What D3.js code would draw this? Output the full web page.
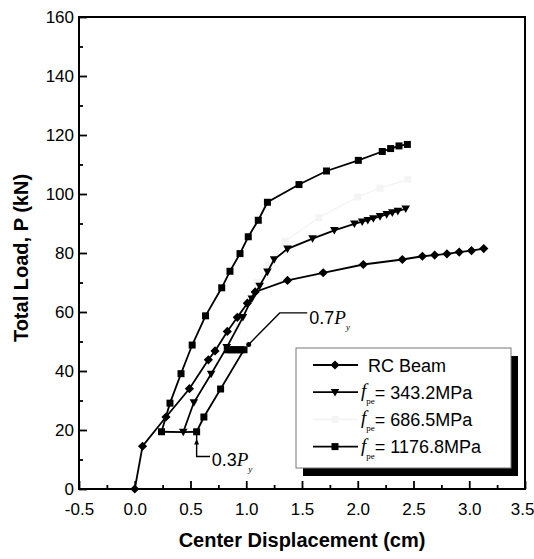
<!DOCTYPE html>
<html><head><meta charset="utf-8">
<script src="https://cdn.jsdelivr.net/npm/d3@7"></script>
<style>body{margin:0;background:#fff}</style></head>
<body>
<svg id="c" width="534" height="559"></svg>
<script>
// ---- data (cm, kN) ----
const rcX = [0, 0.07, 0.28, 0.49, 0.66, 0.72, 0.83, 0.92, 1.01, 1.08, 1.37, 1.69, 2.05, 2.40, 2.58, 2.69, 2.80, 2.91, 3.02, 3.13];
const rcY = [0, 14.5, 24.4, 34.0, 43.8, 46.8, 53.4, 58.2, 63.0, 66.8, 70.7, 73.3, 76.1, 77.8, 78.9, 79.3, 79.7, 80.3, 80.8, 81.5];

const f343X = [0.435, 0.53, 0.685, 0.825, 0.97, 1.05, 1.12, 1.19, 1.25, 1.37, 1.595, 1.79, 1.97, 2.04, 2.09, 2.14, 2.20, 2.26, 2.31, 2.36, 2.43];
const f343Y = [19.3, 29.3, 39.0, 48.0, 58.2, 64.5, 68.8, 73.6, 77.8, 81.4, 84.9, 87.7, 89.9, 90.6, 91.1, 91.7, 92.4, 93.1, 93.7, 94.2, 95.0];

const f686X = [0.83, 0.92, 1.01, 1.10, 1.20, 1.35, 1.65, 2.00, 2.20, 2.45];
const f686Y = [47.2, 55.0, 63.0, 70.0, 76.0, 84.0, 92.0, 99.0, 102.0, 105.0];

const f1176X = [0.24, 0.316, 0.415, 0.515, 0.635, 0.78, 0.854, 0.944, 1.018, 1.108, 1.19, 1.473, 1.72, 2.005, 2.22, 2.295, 2.37, 2.445];
const f1176Y = [19.4, 29.1, 39.1, 48.8, 58.7, 68.2, 73.8, 79.8, 85.5, 91.1, 97.2, 103.2, 107.8, 111.4, 114.4, 115.4, 116.3, 116.8];

// preload path to 0.7Py and shift at constant load
const preX = [0.555, 0.62, 0.77, 0.98, 0.95, 0.92, 0.89, 0.86, 0.83];
const preY = [19.4, 24.4, 33.9, 47.2, 47.2, 47.2, 47.2, 47.2, 47.2];
// shift at 0.3Py
const shiftX = [0.24, 0.435, 0.555];
const shiftY = [19.4, 19.3, 19.4];

// annotation leaders
const lead03X = [0.675, 0.555, 0.555];
const lead03Y = [11.0, 11.0, 19.4];
const lead07X = [1.022, 1.30, 1.547];
const lead07Y = [49.0, 59.7, 59.7];

const xMajor = [-0.5, 0, 0.5, 1.0, 1.5, 2.0, 2.5, 3.0, 3.5];
const xMinor = [-0.25, 0.25, 0.75, 1.25, 1.75, 2.25, 2.75, 3.25];
const yMajor = [0, 20, 40, 60, 80, 100, 120, 140, 160];
const yMinor = [10, 30, 50, 70, 90, 110, 130, 150];

const legendLabels = ["RC Beam", "343.2MPa", "686.5MPa", "1176.8MPa"];

// ---- drawing ----
const svg = d3.select("#c");
const L = 79, R = 525, T = 17, B = 489;
const x = d3.scaleLinear().domain([-0.5, 3.5]).range([L, R]);
const y = d3.scaleLinear().domain([0, 160]).range([B, T]);
const font = "'Liberation Sans', Arial, sans-serif";
const serif = "'Liberation Serif', 'Times New Roman', serif";

// axes
const gx = svg.append("g").attr("transform", `translate(0,${B})`)
  .call(d3.axisBottom(x).tickValues(xMajor).tickSize(-8).tickPadding(14).tickFormat(d3.format(".1f")));
svg.append("g").attr("transform", `translate(0,${B})`)
  .call(d3.axisBottom(x).tickValues(xMinor).tickSize(-4).tickFormat(""));
const gy = svg.append("g").attr("transform", `translate(${L},0)`)
  .call(d3.axisLeft(y).tickValues(yMajor).tickSize(-8).tickPadding(5).tickFormat(d3.format("d")));
svg.append("g").attr("transform", `translate(${L},0)`)
  .call(d3.axisLeft(y).tickValues(yMinor).tickSize(-4).tickFormat(""));
svg.selectAll(".domain").remove();
svg.selectAll(".tick line").attr("stroke", "#000").attr("stroke-width", 1.8);
svg.selectAll(".tick text").attr("font-family", font).attr("font-size", 17).attr("fill", "#000");
gx.selectAll(".tick text")
  .text(d => d < 0 ? "-" + Math.abs(d).toFixed(1) : d.toFixed(1))
  .attr("text-anchor", d => d === 3.5 ? "end" : "middle")
  .attr("dx", d => d === 3.5 ? 9 : 0);

// frame
svg.append("rect").attr("x", L).attr("y", T).attr("width", R - L).attr("height", B - T)
  .attr("fill", "none").attr("stroke", "#000").attr("stroke-width", 2);

// axis titles
svg.append("text").attr("x", (L + R) / 2).attr("y", 547).attr("text-anchor", "middle")
  .attr("font-family", font).attr("font-weight", "bold").attr("font-size", 20).text("Center Displacement (cm)");
svg.append("text").attr("transform", `translate(28,${(T + B) / 2 + 5}) rotate(-90)`).attr("text-anchor", "middle")
  .attr("font-family", font).attr("font-weight", "bold").attr("font-size", 20).text("Total Load, P (kN)");

// markers
const sq = "M-3.5,-3.5H3.5V3.5H-3.5Z";
const dia = "M0,-4.6L4.6,0L0,4.6L-4.6,0Z";
const tri = "M-4.3,-3.3L4.3,-3.3L0,4.3Z";

const line = d3.line().x(d => x(d[0])).y(d => y(d[1]));
const zip = (a, b) => a.map((v, i) => [v, b[i]]);

function series(xs, ys, color, shape, width) {
  const pts = zip(xs, ys);
  svg.append("path").attr("d", line(pts)).attr("fill", "none").attr("stroke", color).attr("stroke-width", width);
  if (shape) svg.append("g").selectAll("path").data(pts).join("path")
    .attr("d", shape).attr("transform", d => `translate(${x(d[0])},${y(d[1])})`).attr("fill", color);
}

const faint = "#f4f4f4";
series(f686X, f686Y, faint, sq, 1.4);
series(shiftX, shiftY, "#000", null, 1.8);
series(preX, preY, "#000", sq, 1.8);
series(rcX, rcY, "#000", dia, 1.8);
series(f343X, f343Y, "#000", tri, 1.8);
series(f1176X, f1176Y, "#000", sq, 1.8);

// annotations
series(lead03X, lead03Y, "#000", null, 1.4);
series(lead07X, lead07Y, "#000", null, 1.4);
svg.append("path").attr("d", "M0,-3.5L2.5,2L-2.5,2Z").attr("transform", `translate(${x(0.555)},${y(15.8)})`).attr("fill", "#000");
svg.append("circle").attr("cx", x(1.022)).attr("cy", y(49.0)).attr("r", 2.5).attr("fill", "#000");

function pyLabel(px, py, num) {
  const t = svg.append("text").attr("x", px).attr("y", py).attr("font-size", 18).attr("fill", "#000");
  t.append("tspan").attr("font-family", font).text(num);
  t.append("tspan").attr("font-family", serif).attr("font-style", "italic").attr("font-size", 19).text("P");
  t.append("tspan").attr("font-family", serif).attr("font-style", "italic").attr("font-size", 9).attr("dy", 6).text("y");
}
pyLabel(x(0.69), 466, "0.3");
pyLabel(x(1.565), 324, "0.7");

// legend
const lx = 296, ly = 348, lw = 215, lh = 120;
svg.append("rect").attr("x", lx + 7).attr("y", ly + 8).attr("width", lw).attr("height", lh).attr("fill", "#000");
svg.append("rect").attr("x", lx).attr("y", ly).attr("width", lw).attr("height", lh)
  .attr("fill", "#fff").attr("stroke", "#777").attr("stroke-width", 1);
const legColors = ["#000", "#000", faint, "#000"];
const legShapes = [dia, tri, sq, sq];
legendLabels.forEach((lab, i) => {
  const cy = 365 + i * 27.2;
  svg.append("line").attr("x1", 313).attr("x2", 358).attr("y1", cy).attr("y2", cy)
    .attr("stroke", legColors[i]).attr("stroke-width", 1.8);
  svg.append("path").attr("d", legShapes[i]).attr("transform", `translate(335,${cy})`).attr("fill", legColors[i]);
  if (i === 0) {
    svg.append("text").attr("x", 368).attr("y", cy + 6.5).attr("font-family", font).attr("font-size", 18).text(lab);
  } else {
    const t = svg.append("text").attr("x", 361).attr("y", cy + 5).attr("fill", "#000");
    t.append("tspan").attr("font-family", serif).attr("font-style", "italic").attr("font-size", 19).text("f");
    t.append("tspan").attr("font-family", serif).attr("font-size", 9).attr("dx", 0).attr("dy", 7).text("pe");
    t.append("tspan").attr("font-family", font).attr("font-size", 18).attr("dx", 0).attr("dy", -5.5).text("= " + lab);
  }
});
</script>
</body></html>
